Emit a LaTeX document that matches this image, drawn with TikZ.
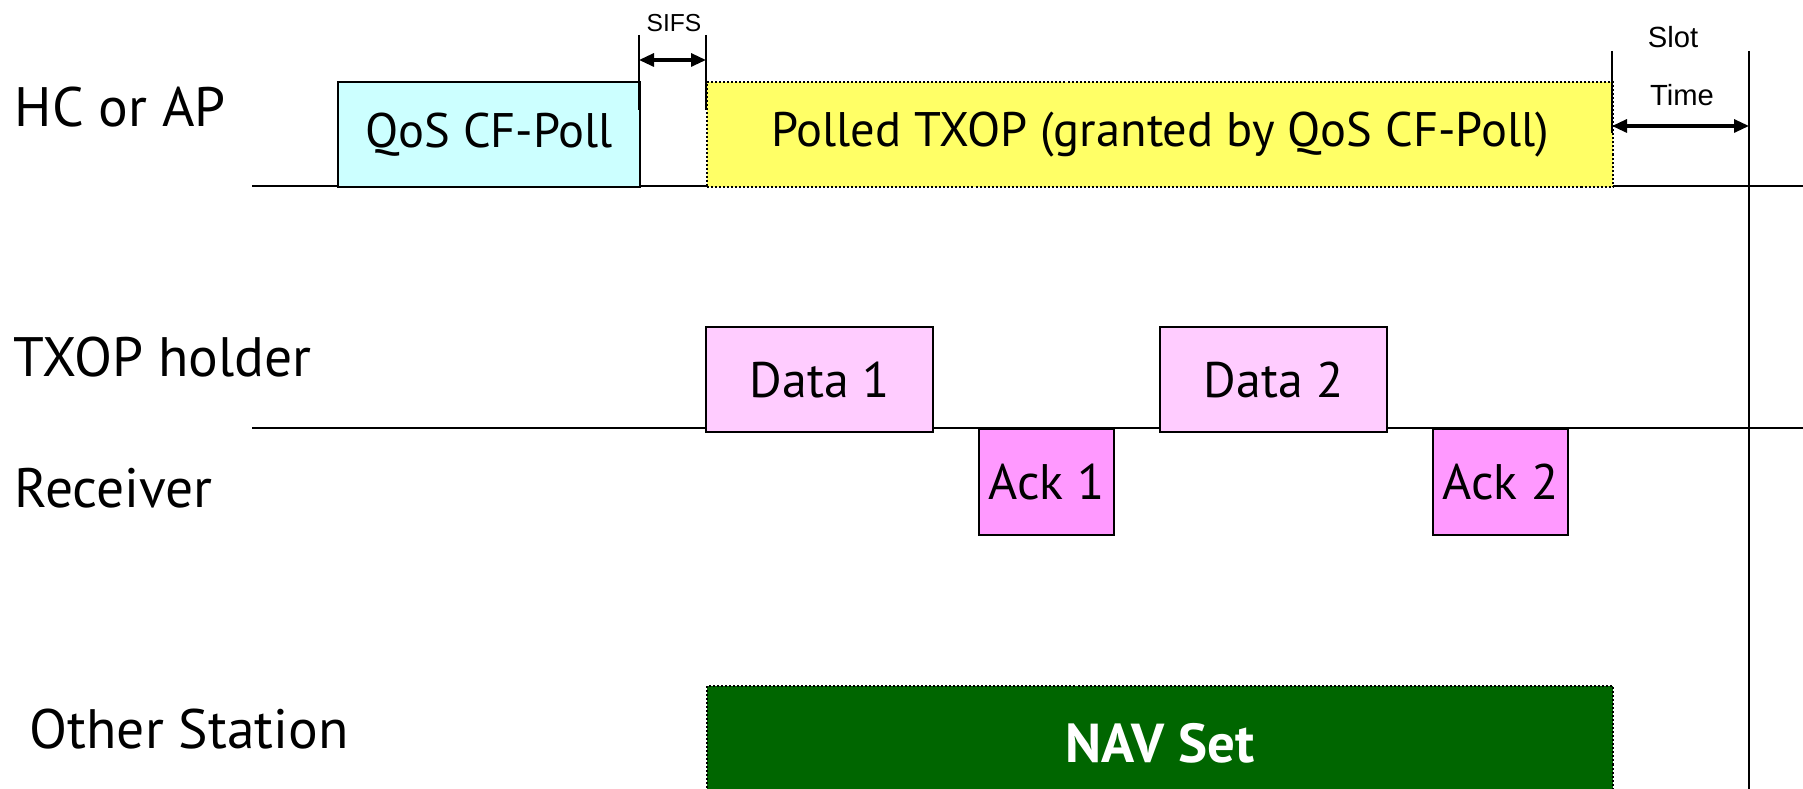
\documentclass[tikz,border=0pt]{standalone}
\usepackage{fontspec}
\setmainfont{PT Sans}
\newfontfamily\labelfont{Liberation Sans}
\usetikzlibrary{arrows.meta}

\definecolor{pollcyan}{HTML}{CCFFFF}
\definecolor{txopyellow}{HTML}{FFFF66}
\definecolor{datapink}{HTML}{FFCCFF}
\definecolor{ackpink}{HTML}{FF99FF}
\definecolor{navgreen}{HTML}{006600}

\begin{document}
\begin{tikzpicture}[
    frame/.style={draw, line width=0.6pt, inner sep=0pt, anchor=north west},
    dotframe/.style={frame, dash pattern=on 0.57pt off 0.57pt},
    boxtext/.style={font=\fontsize{14.2}{17}\selectfont},
    longtext/.style={font=\fontsize{13.8}{17}\selectfont},
    lane/.style={font=\fontsize{15.8}{19}\selectfont, anchor=west, inner sep=0pt},
    timeline/.style={line width=0.6pt},
    marker/.style={line width=0.7pt},
    span/.style={line width=0.9pt, {Triangle[length=1.5mm,width=1.3mm]}-{Triangle[length=1.5mm,width=1.3mm]}},
    tiny/.style={font=\labelfont\fontsize{7}{8}\selectfont, inner sep=0pt},
    small/.style={font=\labelfont\fontsize{8.3}{9}\selectfont, inner sep=0pt},
]

    % Page size of the original picture
    \useasboundingbox (0,0) rectangle (18.03,-7.89);

    % Station names on the left
    \node[lane] (ap) at (0.14,-1.07) {HC or AP};
    \node[lane] (holder) at (0.13,-3.57) {TXOP holder};
    \node[lane] (recv) at (0.14,-4.88) {Receiver};
    \node[lane] (other) at (0.29,-7.29) {Other Station};

    % Time lines of the HC and of the TXOP holder / receiver
    \coordinate (line1 west) at (2.52,-1.86);
    \coordinate (line1 east) at (18.03,-1.86);
    \coordinate (line2 west) at (2.52,-4.28);
    \coordinate (line2 east) at (18.03,-4.28);
    \draw[timeline] (line1 west) -- (line1 east);
    \draw[timeline] (line2 west) -- (line2 east);

    % HC or AP: poll frame and the polled TXOP (dotted border)
    \node[frame, longtext, fill=pollcyan, minimum width=3.02cm, minimum height=1.05cm] (poll) at (3.37,-0.81) {QoS CF-Poll};
    \node[dotframe, longtext, fill=txopyellow, minimum width=9.06cm, minimum height=1.05cm] (txop) at (7.06,-0.81) {Polled TXOP (granted by QoS CF-Poll)};

    % TXOP holder: data frames
    \node[frame, boxtext, fill=datapink, minimum width=2.27cm, minimum height=1.05cm] (data1) at (7.05,-3.26) {Data 1};
    \node[frame, boxtext, fill=datapink, minimum width=2.27cm, minimum height=1.05cm] (data2) at (11.59,-3.26) {Data 2};

    % Receiver: acknowledgements
    \node[frame, boxtext, fill=ackpink, minimum width=1.35cm, minimum height=1.06cm] (ack1) at (9.78,-4.28) {Ack 1};
    \node[frame, boxtext, fill=ackpink, minimum width=1.35cm, minimum height=1.06cm] (ack2) at (14.32,-4.28) {Ack 2};

    % Other station: NAV (runs off the bottom)
    \node[dotframe, fill=navgreen, text=white, font=\bfseries\fontsize{15.6}{18}\selectfont, minimum width=9.06cm, minimum height=1.15cm] (nav) at (7.06,-6.85) {NAV Set};

    % SIFS gap
    \draw[marker] (6.39,-0.35) -- (6.39,-1.10);
    \draw[marker] (7.06,-0.35) -- (7.06,-1.10);
    \coordinate (sifsL) at (6.39,-0.60);
    \coordinate (sifsR) at (7.06,-0.60);
    \draw[span] (sifsL) -- (sifsR);
    \node[tiny] (sifs) at (6.74,-0.23) {SIFS};

    % Slot time after the TXOP
    \draw[marker] (16.12,-0.51) -- (16.12,-1.33);
    \draw[marker] (17.49,-0.51) -- (17.49,-7.89);
    \coordinate (slotL) at (16.12,-1.26);
    \coordinate (slotR) at (17.49,-1.26);
    \draw[span] (slotL) -- (slotR);
    \node[small] (slot) at (16.73,-0.37) {Slot};
    \node[small] (time) at (16.82,-0.95) {Time};

\end{tikzpicture}
\end{document}
